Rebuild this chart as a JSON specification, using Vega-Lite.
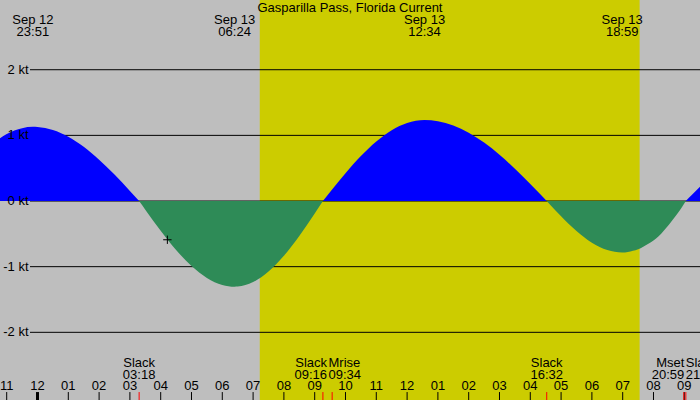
{
  "$schema": "https://vega.github.io/schema/vega-lite/v6.json",
  "width": 700,
  "height": 400,
  "autosize": {"type": "none"},
  "padding": 0,
  "background": "#bebebe",
  "view": {"stroke": null},
  "datasets": {
    "heading": [{"station": "Gasparilla Pass, Florida Current"}],
    "current": [
      {"t": "2024-09-12T22:40", "v": 0.92, "seg": 1, "dir": "flood"},
      {"t": "2024-09-12T23:00", "v": 1.02, "seg": 1, "dir": "flood"},
      {"t": "2024-09-12T23:15", "v": 1.075, "seg": 1, "dir": "flood"},
      {"t": "2024-09-12T23:30", "v": 1.11, "seg": 1, "dir": "flood"},
      {"t": "2024-09-12T23:51", "v": 1.13, "seg": 1, "dir": "flood"},
      {"t": "2024-09-13T00:00", "v": 1.127, "seg": 1, "dir": "flood"},
      {"t": "2024-09-13T00:30", "v": 1.081, "seg": 1, "dir": "flood"},
      {"t": "2024-09-13T01:00", "v": 0.979, "seg": 1, "dir": "flood"},
      {"t": "2024-09-13T01:30", "v": 0.826, "seg": 1, "dir": "flood"},
      {"t": "2024-09-13T02:00", "v": 0.63, "seg": 1, "dir": "flood"},
      {"t": "2024-09-13T02:30", "v": 0.404, "seg": 1, "dir": "flood"},
      {"t": "2024-09-13T03:00", "v": 0.154, "seg": 1, "dir": "flood"},
      {"t": "2024-09-13T03:18", "v": 0, "seg": 1, "dir": "flood"},
      {"t": "2024-09-13T03:18", "v": 0, "seg": 2, "dir": "ebb"},
      {"t": "2024-09-13T03:30", "v": -0.132, "seg": 2, "dir": "ebb"},
      {"t": "2024-09-13T04:00", "v": -0.453, "seg": 2, "dir": "ebb"},
      {"t": "2024-09-13T04:30", "v": -0.746, "seg": 2, "dir": "ebb"},
      {"t": "2024-09-13T05:00", "v": -0.99, "seg": 2, "dir": "ebb"},
      {"t": "2024-09-13T05:30", "v": -1.171, "seg": 2, "dir": "ebb"},
      {"t": "2024-09-13T06:00", "v": -1.278, "seg": 2, "dir": "ebb"},
      {"t": "2024-09-13T06:24", "v": -1.305, "seg": 2, "dir": "ebb"},
      {"t": "2024-09-13T06:30", "v": -1.303, "seg": 2, "dir": "ebb"},
      {"t": "2024-09-13T07:00", "v": -1.235, "seg": 2, "dir": "ebb"},
      {"t": "2024-09-13T07:30", "v": -1.075, "seg": 2, "dir": "ebb"},
      {"t": "2024-09-13T08:00", "v": -0.835, "seg": 2, "dir": "ebb"},
      {"t": "2024-09-13T08:30", "v": -0.533, "seg": 2, "dir": "ebb"},
      {"t": "2024-09-13T09:00", "v": -0.19, "seg": 2, "dir": "ebb"},
      {"t": "2024-09-13T09:16", "v": 0, "seg": 2, "dir": "ebb"},
      {"t": "2024-09-13T09:16", "v": 0, "seg": 3, "dir": "flood"},
      {"t": "2024-09-13T09:30", "v": 0.137, "seg": 3, "dir": "flood"},
      {"t": "2024-09-13T10:00", "v": 0.422, "seg": 3, "dir": "flood"},
      {"t": "2024-09-13T10:30", "v": 0.684, "seg": 3, "dir": "flood"},
      {"t": "2024-09-13T11:00", "v": 0.906, "seg": 3, "dir": "flood"},
      {"t": "2024-09-13T11:30", "v": 1.078, "seg": 3, "dir": "flood"},
      {"t": "2024-09-13T12:00", "v": 1.189, "seg": 3, "dir": "flood"},
      {"t": "2024-09-13T12:34", "v": 1.234, "seg": 3, "dir": "flood"},
      {"t": "2024-09-13T13:00", "v": 1.216, "seg": 3, "dir": "flood"},
      {"t": "2024-09-13T13:30", "v": 1.151, "seg": 3, "dir": "flood"},
      {"t": "2024-09-13T14:00", "v": 1.041, "seg": 3, "dir": "flood"},
      {"t": "2024-09-13T14:30", "v": 0.89, "seg": 3, "dir": "flood"},
      {"t": "2024-09-13T15:00", "v": 0.704, "seg": 3, "dir": "flood"},
      {"t": "2024-09-13T15:30", "v": 0.492, "seg": 3, "dir": "flood"},
      {"t": "2024-09-13T16:00", "v": 0.259, "seg": 3, "dir": "flood"},
      {"t": "2024-09-13T16:20", "v": 0.098, "seg": 3, "dir": "flood"},
      {"t": "2024-09-13T16:32", "v": 0, "seg": 3, "dir": "flood"},
      {"t": "2024-09-13T16:32", "v": 0, "seg": 4, "dir": "ebb"},
      {"t": "2024-09-13T16:40", "v": -0.067, "seg": 4, "dir": "ebb"},
      {"t": "2024-09-13T17:00", "v": -0.231, "seg": 4, "dir": "ebb"},
      {"t": "2024-09-13T17:30", "v": -0.456, "seg": 4, "dir": "ebb"},
      {"t": "2024-09-13T18:00", "v": -0.634, "seg": 4, "dir": "ebb"},
      {"t": "2024-09-13T18:30", "v": -0.748, "seg": 4, "dir": "ebb"},
      {"t": "2024-09-13T18:59", "v": -0.785, "seg": 4, "dir": "ebb"},
      {"t": "2024-09-13T19:10", "v": -0.775, "seg": 4, "dir": "ebb"},
      {"t": "2024-09-13T19:30", "v": -0.735, "seg": 4, "dir": "ebb"},
      {"t": "2024-09-13T19:50", "v": -0.65, "seg": 4, "dir": "ebb"},
      {"t": "2024-09-13T20:10", "v": -0.535, "seg": 4, "dir": "ebb"},
      {"t": "2024-09-13T20:30", "v": -0.36, "seg": 4, "dir": "ebb"},
      {"t": "2024-09-13T20:45", "v": -0.21, "seg": 4, "dir": "ebb"},
      {"t": "2024-09-13T20:55", "v": -0.1, "seg": 4, "dir": "ebb"},
      {"t": "2024-09-13T21:03", "v": 0, "seg": 4, "dir": "ebb"},
      {"t": "2024-09-13T21:03", "v": 0, "seg": 5, "dir": "flood"},
      {"t": "2024-09-13T21:15", "v": 0.095, "seg": 5, "dir": "flood"},
      {"t": "2024-09-13T21:31", "v": 0.222, "seg": 5, "dir": "flood"}
    ],
    "sun": [{"rise": "2024-09-13T07:13", "set": "2024-09-13T19:33"}],
    "grid": [
      {"v": 2, "label": "2 kt"},
      {"v": 1, "label": "1 kt"},
      {"v": 0, "label": "0 kt"},
      {"v": -1, "label": "-1 kt"},
      {"v": -2, "label": "-2 kt"}
    ],
    "hours": [
      {"t": "2024-09-12T23:00"}, {"t": "2024-09-13T00:00"}, {"t": "2024-09-13T01:00"},
      {"t": "2024-09-13T02:00"}, {"t": "2024-09-13T03:00"}, {"t": "2024-09-13T04:00"},
      {"t": "2024-09-13T05:00"}, {"t": "2024-09-13T06:00"}, {"t": "2024-09-13T07:00"},
      {"t": "2024-09-13T08:00"}, {"t": "2024-09-13T09:00"}, {"t": "2024-09-13T10:00"},
      {"t": "2024-09-13T11:00"}, {"t": "2024-09-13T12:00"}, {"t": "2024-09-13T13:00"},
      {"t": "2024-09-13T14:00"}, {"t": "2024-09-13T15:00"}, {"t": "2024-09-13T16:00"},
      {"t": "2024-09-13T17:00"}, {"t": "2024-09-13T18:00"}, {"t": "2024-09-13T19:00"},
      {"t": "2024-09-13T20:00"}, {"t": "2024-09-13T21:00"}
    ],
    "events": [
      {"t": "2024-09-13T03:18", "event": "Slack"},
      {"t": "2024-09-13T09:16", "event": "Slack"},
      {"t": "2024-09-13T09:34", "event": "Mrise"},
      {"t": "2024-09-13T16:32", "event": "Slack"},
      {"t": "2024-09-13T20:59", "event": "Mset"},
      {"t": "2024-09-13T21:03", "event": "Slack"}
    ],
    "extrema": [
      {"t": "2024-09-12T23:51", "v": 1.13},
      {"t": "2024-09-13T06:24", "v": -1.305},
      {"t": "2024-09-13T12:34", "v": 1.234},
      {"t": "2024-09-13T18:59", "v": -0.785}
    ],
    "marker": [{"t": "2024-09-13T04:13", "v": -0.59}]
  },
  "layer": [
    {
      "data": {"name": "sun"},
      "mark": {"type": "rect", "color": "#cccc00"},
      "encoding": {
        "x": {"field": "rise", "type": "temporal", "axis": null,
              "scale": {"nice": false, "domain": [{"year": 2024, "month": 9, "date": 12, "hours": 22, "minutes": 46, "seconds": 57}, {"year": 2024, "month": 9, "date": 13, "hours": 21, "minutes": 30, "seconds": 36}]}},
        "x2": {"field": "set"}
      }
    },
    {
      "data": {"name": "grid"},
      "mark": {"type": "rule", "color": "black", "strokeWidth": 1},
      "encoding": {
        "y": {"field": "v", "type": "quantitative", "axis": null, "scale": {"domain": [-3.031, 3.062], "nice": false, "zero": false}},
        "x": {"datum": {"year": 2024, "month": 9, "date": 12, "hours": 23, "minutes": 45, "seconds": 24}, "type": "temporal", "axis": null},
        "x2": {"datum": {"year": 2024, "month": 9, "date": 13, "hours": 22, "minutes": 0}}
      }
    },
    {
      "data": {"name": "current"},
      "mark": {"type": "area", "interpolate": "monotone", "clip": true},
      "encoding": {
        "x": {"field": "t", "type": "temporal", "axis": null},
        "y": {"field": "v", "type": "quantitative", "axis": null, "stack": null},
        "y2": {"datum": 0},
        "color": {"field": "dir", "type": "nominal", "legend": null, "scale": {"domain": ["flood", "ebb"], "range": ["#0000ff", "#2e8b57"]}},
        "detail": {"field": "seg", "type": "nominal"}
      }
    },
    {
      "data": {"name": "hours"},
      "mark": {"type": "rule", "color": "black"},
      "encoding": {
        "x": {"field": "t", "type": "temporal", "axis": null},
        "y": {"datum": -2.91, "type": "quantitative", "axis": null},
        "y2": {"datum": -3.2},
        "strokeWidth": {"condition": {"test": "hours(datum.t) == 0", "value": 3}, "value": 1}
      }
    },
    {
      "data": {"name": "hours"},
      "mark": {"type": "text", "align": "center", "baseline": "alphabetic", "font": "Liberation Sans", "fontSize": 13, "fill": "black"},
      "encoding": {
        "x": {"field": "t", "type": "temporal", "axis": null},
        "y": {"datum": -2.879, "type": "quantitative", "axis": null},
        "text": {"field": "t", "type": "temporal", "format": "%I"}
      }
    },
    {
      "data": {"name": "events"},
      "mark": {"type": "rule", "color": "#ff0000", "strokeWidth": 1},
      "encoding": {
        "x": {"field": "t", "type": "temporal", "axis": null},
        "y": {"datum": -2.91, "type": "quantitative", "axis": null},
        "y2": {"datum": -3.2}
      }
    },
    {
      "data": {"name": "events", "format": {"parse": {"t": "date"}}},
      "transform": [
        {"window": [{"op": "lag", "field": "t", "as": "prev"}, {"op": "lead", "field": "t", "as": "next"}], "sort": [{"field": "t", "order": "ascending"}]},
        {"calculate": "datum.next != null && time(datum.next) - time(datum.t) < 3600000 ? 'right' : (datum.prev != null && time(datum.t) - time(datum.prev) < 3600000 ? 'left' : 'center')", "as": "side"},
        {"calculate": "datum.side == 'right' ? (time(datum.t) + time(datum.next)) / 2 : (datum.side == 'left' ? (time(datum.prev) + time(datum.t)) / 2 : time(datum.t))", "as": "anchor"},
        {"calculate": "[datum.event, timeFormat(datum.t, '%H:%M')]", "as": "lines"}
      ],
      "layer": [
        {
          "transform": [{"filter": "datum.side == 'center'"}],
          "mark": {"type": "text", "align": "center", "baseline": "alphabetic", "lineHeight": 12, "font": "Liberation Sans", "fontSize": 13, "fill": "black"}
        },
        {
          "transform": [{"filter": "datum.side == 'right'"}],
          "mark": {"type": "text", "align": "right", "baseline": "alphabetic", "lineHeight": 12, "dx": -0.5, "font": "Liberation Sans", "fontSize": 13, "fill": "black"}
        },
        {
          "transform": [{"filter": "datum.side == 'left'"}],
          "mark": {"type": "text", "align": "left", "baseline": "alphabetic", "lineHeight": 12, "dx": 1, "font": "Liberation Sans", "fontSize": 13, "fill": "black"}
        }
      ],
      "encoding": {
        "x": {"field": "anchor", "type": "temporal", "axis": null},
        "y": {"datum": -2.524, "type": "quantitative", "axis": null},
        "text": {"field": "lines", "type": "nominal"}
      }
    },
    {
      "data": {"name": "extrema", "format": {"parse": {"t": "date"}}},
      "transform": [
        {"calculate": "[timeFormat(datum.t, '%b %d'), timeFormat(datum.t, '%H:%M')]", "as": "lines"}
      ],
      "mark": {"type": "text", "align": "center", "baseline": "alphabetic", "lineHeight": 12, "font": "Liberation Sans", "fontSize": 13, "fill": "black"},
      "encoding": {
        "x": {"field": "t", "type": "temporal", "axis": null},
        "y": {"datum": 2.696, "type": "quantitative", "axis": null},
        "text": {"field": "lines", "type": "nominal"}
      }
    },
    {
      "data": {"name": "heading"},
      "mark": {"type": "text", "align": "center", "baseline": "alphabetic", "font": "Liberation Sans", "fontSize": 13, "fill": "black"},
      "encoding": {
        "x": {"datum": {"year": 2024, "month": 9, "date": 13, "hours": 10, "minutes": 8, "seconds": 46}, "type": "temporal", "axis": null},
        "y": {"datum": 2.874, "type": "quantitative", "axis": null},
        "text": {"field": "station", "type": "nominal"}
      }
    },
    {
      "data": {"name": "grid"},
      "mark": {"type": "text", "align": "right", "baseline": "alphabetic", "dx": -1.5, "dy": 4, "font": "Liberation Sans", "fontSize": 13, "fill": "black"},
      "encoding": {
        "x": {"datum": {"year": 2024, "month": 9, "date": 12, "hours": 23, "minutes": 45, "seconds": 24}, "type": "temporal", "axis": null},
        "y": {"field": "v", "type": "quantitative", "axis": null},
        "text": {"field": "label", "type": "nominal"}
      }
    },
    {
      "data": {"name": "marker"},
      "mark": {"type": "point", "shape": "M-1,0H1M0,-1V1", "size": 70, "filled": false, "color": "black", "strokeWidth": 1, "opacity": 1},
      "encoding": {
        "x": {"field": "t", "type": "temporal", "axis": null},
        "y": {"field": "v", "type": "quantitative", "axis": null}
      }
    }
  ]
}
